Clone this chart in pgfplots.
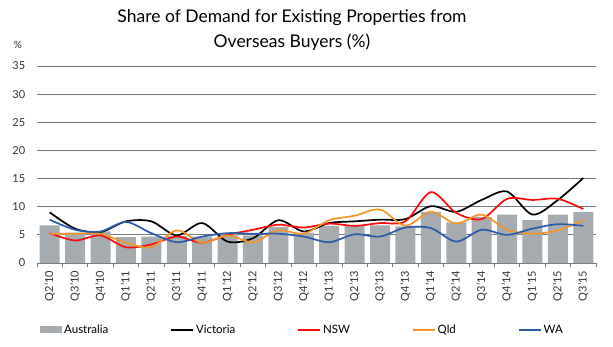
\documentclass[border=0pt]{standalone}
\usepackage{pgfplots}
\pgfplotsset{compat=1.18}
\usepackage{fontspec}
\setmainfont{Lato}
\definecolor{ausgray}{RGB}{166,171,176}
\definecolor{nswred}{RGB}{255,10,10}
\definecolor{qldorange}{RGB}{242,150,40}
\definecolor{wablue}{RGB}{40,92,170}
\definecolor{gridgray}{RGB}{120,120,120}
\pgfplotsset{linelegend/.style={legend image code/.code={\draw[##1] (0pt,0pt) -- (22pt,0pt);}}}
\begin{document}
\begin{tikzpicture}[x=1pt,y=1pt]
\useasboundingbox (0,0) rectangle (613,346);
\node[font=\fontsize{17.5}{25}\selectfont, align=center] at (292,316) {Share of Demand for Existing Properties from\\Overseas Buyers (\%)};
\node[font=\fontsize{10}{12}\selectfont, text=black!80] at (18,301) {\%};
\begin{axis}[
  at={(37pt,83pt)}, anchor=south west, scale only axis,
  width=559pt, height=197pt,
  xmin=-0.5, xmax=21.5, ymin=0, ymax=35,
  ytick={0,5,...,35},
  ymajorgrids, grid style={gridgray, line width=0.8pt},
  axis x line*=bottom, axis y line*=left,
  y axis line style={draw=none},
  x axis line style={-, draw=gridgray, line width=0.8pt},
  ytick style={draw=none},
  xtick={0,...,21},
  xticklabels={Q2'10,Q3'10,Q4'10,Q1'11,Q2'11,Q3'11,Q4'11,Q1'12,Q2'12,Q3'12,Q4'12,Q1'13,Q2'13,Q3'13,Q4'13,Q1'14,Q2'14,Q3'14,Q4'14,Q1'15,Q2'15,Q3'15},
  major x tick style={draw=none},
  minor xtick={-0.5,0.5,...,21.5},
  minor x tick style={draw=gridgray, line width=0.8pt},
  minor tick length=4pt,
  tick align=outside,
  xticklabel style={rotate=90, anchor=east, font=\fontsize{11}{12}\selectfont, text=black!80},
  yticklabel style={font=\fontsize{11}{12}\selectfont, text=black!80, xshift=-4pt},
  /pgf/number format/assume math mode=true,
  legend style={at={(0,-0.34)}, anchor=west, draw=none, fill=none, legend columns=5,
    font=\fontsize{11.5}{13}\selectfont,
    /tikz/every even column/.append style={column sep=60pt}},
  legend cell align=left,
]
\addplot[ybar, bar width=20pt, fill=ausgray, draw=none,
  legend image code/.code={\fill[ausgray] (0pt,-3.5pt) rectangle (22pt,3.5pt);}]
  coordinates {(0,6.7)(1,5.4)(2,5.6)(3,4.6)(4,4.7)(5,4.8)(6,4.7)(7,5.3)(8,4.9)(9,6.4)(10,5.4)(11,6.6)(12,6.6)(13,6.7)(14,6.5)(15,9.1)(16,7.2)(17,8.2)(18,8.6)(19,7.6)(20,8.6)(21,9.05)};
\addlegendentry{Australia}
\addplot[black, line width=1.7pt, smooth, tension=0.5, linelegend]
  coordinates {(0,9.0)(1,6.1)(2,5.5)(3,7.4)(4,7.4)(5,4.9)(6,7.1)(7,3.8)(8,4.4)(9,7.6)(10,5.6)(11,7.1)(12,7.4)(13,7.7)(14,7.8)(15,10.1)(16,9.1)(17,11.2)(18,12.7)(19,8.6)(20,11.2)(21,15.1)};
\addlegendentry{Victoria}
\addplot[nswred, line width=1.7pt, smooth, tension=0.5, linelegend]
  coordinates {(0,5.3)(1,4.0)(2,4.9)(3,2.8)(4,3.3)(5,4.7)(6,3.6)(7,5.0)(8,5.9)(9,6.8)(10,6.3)(11,7.0)(12,6.6)(13,7.1)(14,7.4)(15,12.6)(16,8.9)(17,7.8)(18,11.4)(19,11.2)(20,11.4)(21,9.6)};
\addlegendentry{NSW}
\addplot[qldorange, line width=1.7pt, smooth, tension=0.5, linelegend]
  coordinates {(0,5.2)(1,5.2)(2,5.2)(3,3.6)(4,2.8)(5,5.8)(6,3.6)(7,4.9)(8,3.7)(9,5.8)(10,5.2)(11,7.6)(12,8.4)(13,9.5)(14,6.6)(15,9.1)(16,7.0)(17,8.6)(18,5.9)(19,5.2)(20,5.8)(21,7.6)};
\addlegendentry{Qld}
\addplot[wablue, line width=1.7pt, smooth, tension=0.5, linelegend]
  coordinates {(0,7.7)(1,5.9)(2,5.6)(3,7.3)(4,5.3)(5,3.7)(6,4.7)(7,5.3)(8,5.2)(9,5.2)(10,4.7)(11,3.7)(12,5.1)(13,4.7)(14,6.3)(15,6.2)(16,3.8)(17,5.9)(18,5.0)(19,6.1)(20,6.9)(21,6.6)};
\addlegendentry{WA}
\end{axis}
\end{tikzpicture}
\end{document}
